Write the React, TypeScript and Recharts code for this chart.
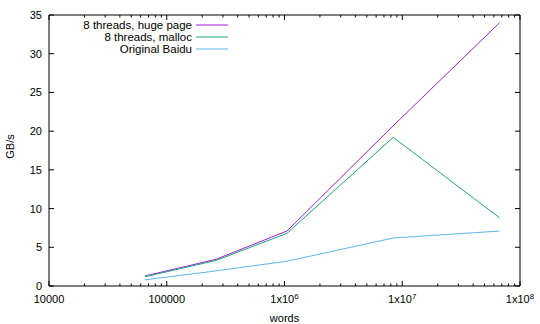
import { LineChart, Line, XAxis, YAxis, ReferenceArea } from 'recharts';

const words = [65536, 262144, 1048576, 8388608, 67108864];
const hugePage = [1.3, 3.45, 7.1, 20.7, 34.0];
const mallocGbs = [1.2, 3.3, 6.8, 19.2, 8.8];
const baiduGbs = [0.8, 1.95, 3.2, 6.2, 7.1];

const seriesNames = ['8 threads, huge page', '8 threads, malloc', 'Original Baidu'];
const seriesKeys = ['huge', 'malloc', 'baidu'];
const seriesColors = ['#9c1ee0', '#1aa47c', '#5ab8ec'];

const majorX = [10000, 100000, 1000000, 10000000, 100000000];
const yTicks = [0, 5, 10, 15, 20, 25, 30, 35];

const WIDTH = 540;
const HEIGHT = 324;
const MARGIN = { top: 15, right: 20, left: 0, bottom: 0 };
const TOP = MARGIN.top;
const RIGHT = WIDTH - MARGIN.right;
const FONT = "'Liberation Sans', Arial, sans-serif";

// log axis gets minor ticks at 2..9 of each decade
const xTicks: number[] = [];
majorX.forEach((d, i) => {
  xTicks.push(d);
  if (i < majorX.length - 1) for (let k = 2; k <= 9; k++) xTicks.push(k * d);
});

const data = words.map((w, i) => ({
  words: w,
  huge: hugePage[i],
  malloc: mallocGbs[i],
  baidu: baiduGbs[i],
}));

function xLabel(v: number) {
  if (v === 10000) return '10000';
  if (v === 100000) return '100000';
  return null;
}

function XTick({ x, y, payload }: any) {
  const v = payload.value;
  const major = majorX.includes(v);
  const len = major ? 5 : 2.5;
  const plain = xLabel(v);
  const exp = Math.round(Math.log10(v));
  return (
    <g>
      <line x1={x} x2={x} y1={y} y2={y - len} stroke="#000" />
      <line x1={x} x2={x} y1={TOP} y2={TOP + len} stroke="#000" />
      {major &&
        (plain ? (
          <text x={x} y={y + 17} textAnchor="middle" fontSize={11} fontFamily={FONT} fill="#000">
            {plain}
          </text>
        ) : (
          <text x={x} y={y + 17} textAnchor="middle" fontSize={11} fontFamily={FONT} fill="#000">
            1x10
            <tspan fontSize={8} dy={-4}>{exp}</tspan>
          </text>
        ))}
    </g>
  );
}

function YTick({ x, y, payload }: any) {
  return (
    <g>
      <line x1={x} x2={x + 5} y1={y} y2={y} stroke="#000" />
      <line x1={RIGHT} x2={RIGHT - 5} y1={y} y2={y} stroke="#000" />
      <text x={x - 7} y={y + 4} textAnchor="end" fontSize={11} fontFamily={FONT} fill="#000">
        {payload.value}
      </text>
    </g>
  );
}

function YLabel({ viewBox }: any) {
  const cx = viewBox.x + 10;
  const cy = viewBox.y + viewBox.height / 2 - 4;
  return (
    <text
      x={cx}
      y={cy}
      transform={`rotate(-90 ${cx} ${cy})`}
      textAnchor="middle"
      dominantBaseline="central"
      fontSize={11}
      fontFamily={FONT}
      fill="#000"
    >
      GB/s
    </text>
  );
}

function ChartLegend() {
  return (
    <div style={{ position: 'absolute', left: 40, top: 19, fontFamily: FONT, fontSize: 11.5, color: '#000' }}>
      {seriesNames.map((name, i) => (
        <div key={name} style={{ display: 'flex', alignItems: 'center', height: 12, lineHeight: '12px' }}>
          <span style={{ width: 152, flexShrink: 0, textAlign: 'right', whiteSpace: 'nowrap' }}>{name}</span>
          <svg width={32} height={4} style={{ marginLeft: 4, flexShrink: 0 }}>
            <line x1={0} x2={32} y1={2} y2={2} stroke={seriesColors[i]} strokeWidth={1} />
          </svg>
        </div>
      ))}
    </div>
  );
}

export default function App() {
  return (
    <div style={{ position: 'relative', width: WIDTH, height: HEIGHT }}>
      <style>{'body{margin:0}'}</style>
      <LineChart width={WIDTH} height={HEIGHT} data={data} margin={MARGIN}>
        <ReferenceArea
          x1={10000}
          x2={100000000}
          y1={0}
          y2={35}
          fill="none"
          stroke="#000"
          strokeWidth={1}
          ifOverflow="visible"
        />
        <XAxis
          dataKey="words"
          type="number"
          scale="log"
          domain={[10000, 100000000]}
          allowDataOverflow
          ticks={xTicks}
          interval={0}
          tick={<XTick />}
          tickLine={false}
          axisLine={false}
          tickSize={0}
          tickMargin={0}
          height={38}
          label={{ value: 'words', position: 'insideBottom', offset: 2, fontSize: 11, fontFamily: FONT, fill: '#000' }}
        />
        <YAxis
          type="number"
          domain={[0, 35]}
          ticks={yTicks}
          interval={0}
          tick={<YTick />}
          tickLine={false}
          axisLine={false}
          tickSize={0}
          tickMargin={0}
          width={49}
          label={<YLabel />}
        />
        {seriesKeys.map((k, i) => (
          <Line
            key={k}
            dataKey={k}
            name={seriesNames[i]}
            stroke={seriesColors[i]}
            strokeWidth={1}
            dot={false}
            type="linear"
            isAnimationActive={false}
          />
        ))}
      </LineChart>
      <ChartLegend />
    </div>
  );
}
